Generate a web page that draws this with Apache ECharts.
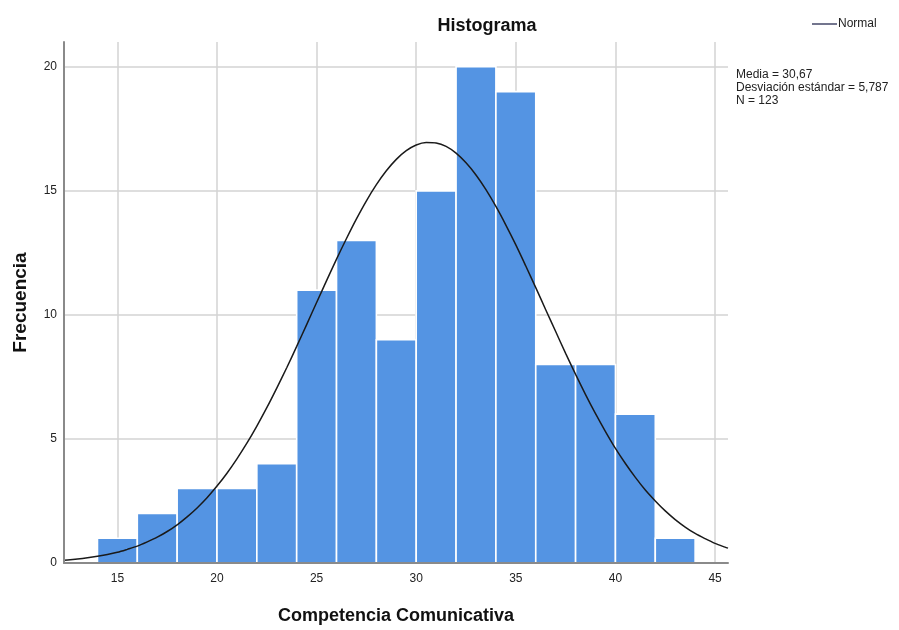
<!DOCTYPE html>
<html>
<head>
<meta charset="utf-8">
<script src="https://cdn.jsdelivr.net/npm/echarts@6/dist/echarts.min.js"></script>
<style>
html,body{margin:0;padding:0;background:#fff;}
#chart{width:899px;height:630px;}
</style>
</head>
<body>
<div id="chart"></div>
<script>
// Histogram bins (Competencia Comunicativa)
const binStarts = [14, 16, 18, 20, 22, 24, 26, 28, 30, 32, 34, 36, 38, 40, 42];
const binEnds   = [16, 18, 20, 22, 24, 26, 28, 30, 32, 34, 36, 38, 40, 42, 44];
const frequencies = [1, 2, 3, 3, 4, 11, 13, 9, 15, 20, 19, 8, 8, 6, 1];

// Normal curve
const curveX = [12.3, 12.5, 13, 13.5, 14, 14.5, 15, 15.5, 16, 16.5, 17, 17.5, 18, 18.5, 19, 19.5, 20, 20.5, 21, 21.5, 22, 22.5, 23, 23.5, 24, 24.5, 25, 25.5, 26, 26.5, 27, 27.5, 28, 28.5, 29, 29.5, 30, 30.5, 31, 31.5, 32, 32.5, 33, 33.5, 34, 34.5, 35, 35.5, 36, 36.5, 37, 37.5, 38, 38.5, 39, 39.5, 40, 40.5, 41, 41.5, 42, 42.5, 43, 43.5, 44, 44.5, 45, 45.5, 45.65];
const curveY = [0.11, 0.12, 0.16, 0.21, 0.27, 0.34, 0.43, 0.55, 0.68, 0.85, 1.04, 1.27, 1.54, 1.86, 2.22, 2.63, 3.10, 3.62, 4.20, 4.83, 5.52, 6.26, 7.05, 7.87, 8.73, 9.61, 10.50, 11.38, 12.25, 13.08, 13.87, 14.60, 15.25, 15.81, 16.27, 16.62, 16.85, 16.95, 16.93, 16.79, 16.52, 16.13, 15.64, 15.05, 14.37, 13.62, 12.82, 11.97, 11.10, 10.21, 9.33, 8.45, 7.60, 6.79, 6.02, 5.30, 4.62, 4.01, 3.45, 2.94, 2.50, 2.10, 1.75, 1.45, 1.19, 0.98, 0.79, 0.64, 0.60];

// Axis ticks / gridlines
const xTicks = [15, 20, 25, 30, 35, 40, 45];
const yTicks = [5, 10, 15, 20];

const statsLines = ['Media = 30,67', 'Desviación estándar = 5,787', 'N = 123'];

const FONT = '"Liberation Sans", Arial, sans-serif';

const chart = echarts.init(document.getElementById('chart'), null, {renderer: 'canvas'});

const barData = binStarts.map((s, i) => [s, binEnds[i], frequencies[i]]);
const curveData = curveX.map((x, i) => [x, curveY[i]]);
const gridMarks = xTicks.map(v => ({xAxis: v})).concat(yTicks.map(v => ({yAxis: v})));

const option = {
  backgroundColor: '#ffffff',
  animation: false,
  title: {
    text: 'Histograma',
    left: 482,
    top: 12,
    textAlign: 'center',
    textStyle: {fontFamily: FONT, fontSize: 18, fontWeight: 'bold', color: '#111'}
  },
  legend: {
    data: [{name: 'Normal', icon: 'rect'}],
    left: 807,
    top: 13,
    itemWidth: 25,
    itemHeight: 1.6,
    itemGap: 2,
    textStyle: {fontFamily: FONT, fontSize: 12, color: '#222', padding: [0, 0, 0, -4]}
  },
  grid: {left: 64, right: 171, top: 42, bottom: 67},
  xAxis: {
    type: 'value',
    min: 12.32,
    max: 45.65,
    z: 5,
    name: 'Competencia Comunicativa',
    nameLocation: 'middle',
    nameGap: 44,
    nameTextStyle: {fontFamily: FONT, fontSize: 18, fontWeight: 'bold', color: '#111'},
    axisLine: {show: true, onZero: false, lineStyle: {color: '#8a8a8a', width: 2}},
    axisTick: {show: false},
    axisLabel: {customValues: xTicks, fontFamily: FONT, fontSize: 12, color: '#222', margin: 10},
    splitLine: {show: false}
  },
  yAxis: {
    type: 'value',
    min: 0,
    max: 21,
    interval: 5,
    z: 5,
    name: 'Frecuencia',
    nameLocation: 'middle',
    nameGap: 34,
    nameTextStyle: {fontFamily: FONT, fontSize: 19, fontWeight: 'bold', color: '#111'},
    axisLine: {show: true, lineStyle: {color: '#8a8a8a', width: 2}},
    axisTick: {show: false},
    axisLabel: {showMaxLabel: false, fontFamily: FONT, fontSize: 12, color: '#222', margin: 7},
    splitLine: {show: false}
  },
  series: [
    {
      name: 'grid',
      type: 'line',
      data: [],
      z: 1,
      silent: true,
      markLine: {
        silent: true,
        z: 1,
        symbol: 'none',
        label: {show: false},
        lineStyle: {color: '#d3d3d3', width: 1.5, type: 'solid'},
        data: gridMarks
      }
    },
    {
      name: 'Frecuencia',
      type: 'custom',
      z: 2,
      data: barData,
      encode: {x: [0, 1], y: 2},
      renderItem: function (params, api) {
        const topLeft = api.coord([api.value(0), api.value(2)]);
        const bottomRight = api.coord([api.value(1), 0]);
        return {
          type: 'rect',
          shape: {
            x: topLeft[0],
            y: topLeft[1],
            width: bottomRight[0] - topLeft[0],
            height: bottomRight[1] - topLeft[1]
          },
          style: {fill: '#5494e3', stroke: '#ffffff', lineWidth: 1.6}
        };
      }
    },
    {
      name: 'Normal',
      type: 'line',
      z: 3,
      data: curveData,
      smooth: 0.3,
      symbol: 'none',
      lineStyle: {color: '#1a1a1a', width: 1.5}
    }
  ],
  graphic: [
    {
      type: 'text',
      left: 736,
      top: 68,
      style: {
        text: statsLines.join('\n'),
        font: '12px ' + FONT,
        lineHeight: 13,
        fill: '#222'
      }
    }
  ]
};

chart.setOption(option);
</script>
</body>
</html>
